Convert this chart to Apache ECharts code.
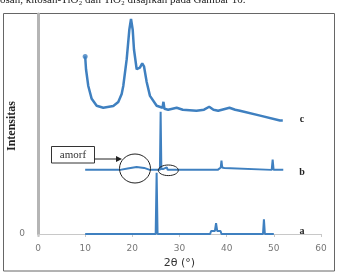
<!DOCTYPE html>
<html>
<head>
<meta charset="utf-8">
<script src="https://cdn.jsdelivr.net/npm/echarts@6/dist/echarts.min.js"></script>
<style>
  html, body { margin: 0; padding: 0; background: #fff; }
  #chart { width: 339px; height: 274px; }
</style>
</head>
<body>
<div id="chart"></div>
<script>
// x ticks (2 theta)
var xTicks = [0, 10, 20, 30, 40, 50, 60];

// pattern c : broad polymer-like pattern  [2theta, intensity]
var patternC = [
  [10, 70], [10.18, 57], [10.66, 40], [11.38, 27], [12.44, 20], [13.84, 18],
  [15.96, 19.7], [17.02, 23.7], [17.74, 32], [18.08, 40], [18.8, 67], [19.36, 97],
  [19.72, 108], [20.08, 97], [20.35, 77], [20.92, 57], [21.05, 55], [21.6, 58.7],
  [22.1, 63], [22.47, 60], [23.04, 44], [23.74, 30], [25.16, 20], [26.4, 18],
  [26.6, 24], [26.8, 17], [27.6, 16], [29.4, 18], [30.7, 16], [33.6, 15],
  [35.2, 16], [36.3, 19], [37.2, 16], [38.2, 15], [40.6, 18], [41.8, 16],
  [42.8, 15], [47.1, 10], [51.3, 5], [51.9, 5]
];

// pattern b : composite
var patternB = [
  [10, 0], [17.4, 0], [19, 1.5], [20.9, 3], [22.5, 2], [23.7, 0], [25.85, 0],
  [26.0, 59], [26.15, 1], [26.6, 1], [27.0, 0.5], [27.3, 2.5], [27.5, 0],
  [38.1, 0], [38.3, 2], [38.75, 2.5], [38.9, 9.5], [39.05, 2.5], [39.5, 2], [39.7, 0],
  [49.55, 0], [49.75, 10.5], [49.95, 0], [52, 0]
];

// pattern a : TiO2
var patternA = [
  [10, 0], [24.95, 0], [25.15, 62], [25.35, 0], [36.5, 0], [36.7, 3], [37.5, 3],
  [37.75, 11], [38.0, 3], [38.7, 3], [38.9, 0], [47.7, 0], [47.9, 15], [48.1, 0], [50, 0]
];

var seriesNames = ['a', 'b', 'c'];
var stackOffsets = { a: 0, b: 65, c: 110 };

var lineColor = '#3f80c0';

function shift(data, off) {
  return data.map(function (p) { return [p[0], p[1] + off]; });
}

var chart = echarts.init(document.getElementById('chart'), null, { renderer: 'canvas' });

var option = {
  animation: false,
  grid: { left: 38, right: 18, top: 14, bottom: 37 },
  xAxis: {
    type: 'value',
    min: xTicks[0],
    max: xTicks[xTicks.length - 1],
    interval: 10,
    name: '2θ (°)',
    nameLocation: 'middle',
    nameGap: 24,
    nameTextStyle: { fontFamily: 'DejaVu Sans', fontSize: 11, color: '#333' },
    axisLine: { lineStyle: { color: '#c8c8c8', width: 1 } },
    axisTick: { show: true, length: 3, lineStyle: { color: '#c8c8c8' } },
    axisLabel: { fontFamily: 'DejaVu Sans', fontSize: 9, color: '#777', margin: 10 },
    splitLine: { show: false }
  },
  yAxis: {
    type: 'value',
    min: 0,
    max: 223,
    interval: 223,
    offset: 2,
    axisLine: { show: true, lineStyle: { color: '#b5b5b5', width: 3 } },
    axisTick: { show: false },
    axisLabel: {
      fontFamily: 'DejaVu Sans', fontSize: 9, color: '#777', margin: 11,
      formatter: function (v) { return v === 0 ? '0' : ''; }
    },
    splitLine: { show: false }
  },
  series: [
    {
      name: 'a', type: 'line', data: shift(patternA, stackOffsets.a),
      showSymbol: false, lineStyle: { color: lineColor, width: 2 }, z: 3
    },
    {
      name: 'b', type: 'line', data: shift(patternB, stackOffsets.b),
      showSymbol: false, lineStyle: { color: lineColor, width: 2 }, z: 3
    },
    {
      name: 'c', type: 'line', data: shift(patternC, stackOffsets.c),
      showSymbol: false, lineStyle: { color: lineColor, width: 2.5 }, z: 3
    },
    {
      name: 'c-start', type: 'scatter', data: shift([patternC[0]], stackOffsets.c),
      symbolSize: 5, itemStyle: { color: lineColor }, z: 4
    }
  ],
  graphic: [
    // page border
    { type: 'rect', shape: { x: 3.5, y: 13.5, width: 331, height: 257.5 },
      style: { fill: 'none', stroke: '#666', lineWidth: 1 }, z: 0 },
    // light band at the foot of the y axis
    { type: 'rect', shape: { x: 37, y: 157, width: 3, height: 80 },
      style: { fill: '#e2e2e2' }, z: 0 },
    // text of the page above the figure (cut off)
    { type: 'text', x: 0, y: 6,
      style: { text: 'osan, kitosan-TiO₂ dan TiO₂ disajikan pada Gambar 10.',
        fontFamily: 'Liberation Serif', fontSize: 11, fill: '#222',
        verticalAlign: 'bottom' } },
    // y title
    { type: 'text', x: 12, y: 126, rotation: Math.PI / 2,
      style: { text: 'Intensitas', fontFamily: 'Liberation Sans Narrow', fontWeight: 'bold',
        fontSize: 12, fill: '#222', align: 'center', verticalAlign: 'middle' } },
    // series letters
    { type: 'text', x: 302, y: 119,
      style: { text: seriesNames[2], fontFamily: 'Liberation Serif', fontWeight: 'bold',
        fontSize: 10, fill: '#222', align: 'center', verticalAlign: 'middle' } },
    { type: 'text', x: 302, y: 172,
      style: { text: seriesNames[1], fontFamily: 'Liberation Serif', fontWeight: 'bold',
        fontSize: 10, fill: '#222', align: 'center', verticalAlign: 'middle' } },
    { type: 'text', x: 302, y: 231,
      style: { text: seriesNames[0], fontFamily: 'Liberation Serif', fontWeight: 'bold',
        fontSize: 10, fill: '#222', align: 'center', verticalAlign: 'middle' } },
    // amorf box + arrow
    { type: 'rect', shape: { x: 51.5, y: 146.5, width: 43, height: 16.5 },
      style: { fill: '#fff', stroke: '#333', lineWidth: 1 }, z: 10 },
    { type: 'text', x: 73, y: 155,
      style: { text: 'amorf', fontFamily: 'Liberation Serif', fontSize: 11, fill: '#333',
        align: 'center', verticalAlign: 'middle' }, z: 11 },
    { type: 'line', shape: { x1: 94.5, y1: 159, x2: 117, y2: 159 },
      style: { stroke: '#222', lineWidth: 1 }, z: 10 },
    { type: 'polygon', shape: { points: [[116, 156], [122, 159], [116, 162]] },
      style: { fill: '#222' }, z: 10 },
    // circles
    { type: 'ellipse', shape: { cx: 135, cy: 168.5, rx: 15.5, ry: 14.5 },
      style: { fill: 'none', stroke: '#222', lineWidth: 1 }, z: 10 },
    { type: 'ellipse', shape: { cx: 168.3, cy: 170.3, rx: 10, ry: 5.3 },
      style: { fill: 'none', stroke: '#222', lineWidth: 1 }, z: 10 }
  ]
};

chart.setOption(option);
</script>
</body>
</html>
